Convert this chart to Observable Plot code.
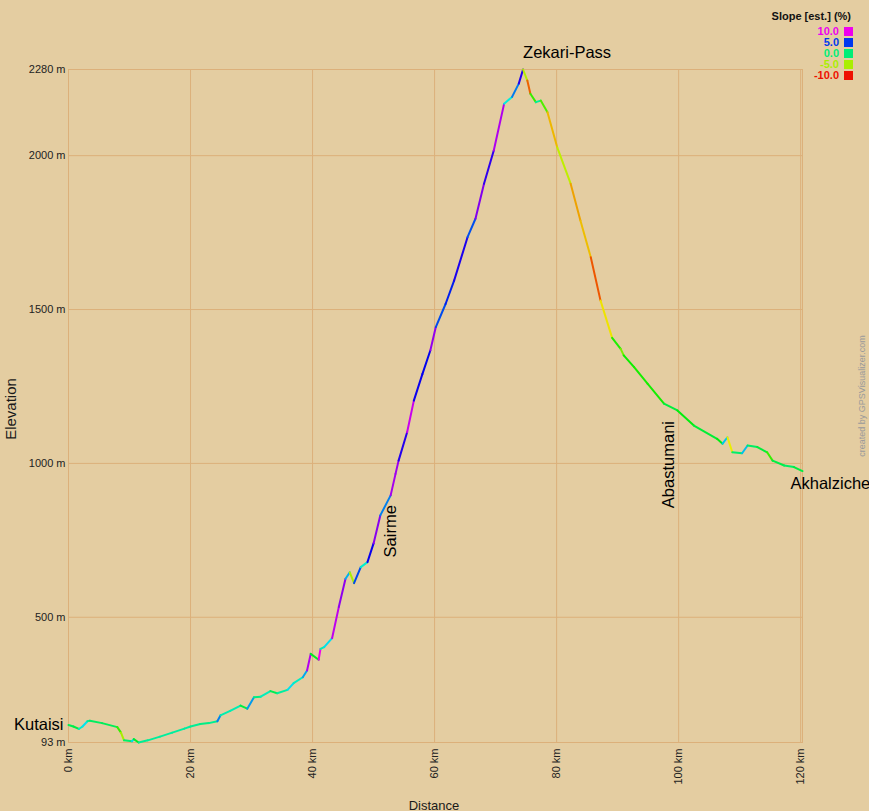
<!DOCTYPE html>
<html><head><meta charset="utf-8">
<script src="https://cdn.jsdelivr.net/npm/d3@7"></script>
<script src="https://cdn.jsdelivr.net/npm/@observablehq/plot@0.6"></script>
<style>
html,body{margin:0;padding:0;background:#e4cda1;}
#wrap{position:relative;width:869px;height:811px;font-family:Arial,"Liberation Sans",sans-serif;}
#legend{position:absolute;top:11px;right:16px;text-align:right;font-weight:bold;font-size:11px;line-height:11px;}
#legend .title{color:#111;margin-bottom:4px;margin-right:2px;}
#legend .row{display:flex;justify-content:flex-end;align-items:center;height:11px;}
#legend .sw{display:inline-block;width:9px;height:9px;margin-left:5px;}
.rot{position:absolute;transform:translate(-50%,-50%) rotate(-90deg);white-space:nowrap;}
#credit{left:862px;top:396px;font-size:9px;color:#9a9a9a;}
#ylab{left:10px;top:409px;font-size:15px;color:#1a1a1a;}
#xlab{position:absolute;left:434px;top:805px;transform:translate(-50%,-50%);font-size:13px;color:#1a1a1a;white-space:nowrap;}
</style>
</head><body>
<div id="wrap"><div id="legend"></div><div id="credit" class="rot">created by GPSVisualizer.com</div><div id="ylab" class="rot">Elevation</div><div id="xlab">Distance</div></div>
<script>
// Elevation profile (km, m)
const distanceKm = [0,0.8,1.7,2.3,3.1,3.5,5.5,8.0,8.6,9.1,10.4,10.7,11.5,13,15,17,19,20,21.6,23,24.4,24.9,26.5,28.2,29.3,30.4,31.5,33.1,34.2,35.9,36.9,38.4,39.1,39.7,41.0,41.3,41.9,43.2,44.3,45.4,46.1,46.8,47.9,49.0,50,51.1,52.8,53.6,54.1,55.5,56.6,58,59.3,60.2,61.8,63.2,65.4,66.7,68.1,69.7,71.4,72.7,73.8,74.5,75.2,75.7,76.6,77.4,78.5,80.1,82.3,83.9,85.6,87.2,89.1,90.5,91.0,92.7,94.9,97.6,99.8,102.5,106.3,107.2,108.0,108.8,110.4,111.3,112.9,114.5,115.4,117.3,118.9,120.3];
const elevationM = [150,145,137,145,162,164,156,143,125,100,97,104,93,100,112,125,138,145,153,156,162,181,196,213,203,240,242,260,253,264,286,305,327,381,362,397,403,432,533,625,646,611,663,679,740,831,896,966,1009,1101,1204,1290,1367,1443,1518,1594,1735,1795,1909,2017,2169,2191,2234,2280,2244,2201,2174,2179,2141,2027,1909,1789,1670,1529,1408,1372,1351,1313,1259,1194,1172,1123,1080,1064,1085,1036,1033,1058,1053,1036,1009,993,988,975];

const xTicks = [0,20,40,60,80,100,120];
const xGrid = [20,40,60,80,100,120];
const yTicks = [93,500,1000,1500,2000,2280];
const yGrid = [500,1000,1500,2000];

const slopeStops = [10,5,0,-5,-10];
const slopeColors = ["#ee00ee","#0038ee","#00ee77","#aaee00","#ee1100"];

const waypointNames = ["Kutaisi","Sairme","Zekari-Pass","Abastumani","Akhalziche"];
const waypointKm = [0,52.8,74.5,98.4,120.3];
const waypointElev = [150,896,2280,1186,975];

const pts = d3.zip(distanceKm, elevationM);
const segments = d3.pairs(pts).map(([a,b]) => ({x1:a[0],y1:a[1],x2:b[0],y2:b[1],slope:(b[1]-a[1])/((b[0]-a[0])*1000)*100}));
const wps = waypointNames.map((n,i)=>({name:n,km:waypointKm[i],elev:waypointElev[i]}));
const wp = n => wps.filter(d=>d.name===n);

const grid = "#dcb07a";
const lab = {fontSize:16.5,fill:"#000"};
const chart = Plot.plot({
  width:869, height:811,
  marginLeft:68, marginRight:67, marginTop:69, marginBottom:69,
  style:{background:"transparent",fontFamily:"Arial, 'Liberation Sans', sans-serif",fontSize:"11px",color:"#222"},
  x:{domain:[0,120.3],ticks:xTicks,tickFormat:d=>d+" km",tickRotate:-90,tickSize:0,tickPadding:6,label:null},
  y:{domain:[93,2280],ticks:yTicks,tickFormat:d=>d+" m",tickSize:0,tickPadding:3,label:null},
  color:{type:"linear",domain:slopeStops.slice().reverse(),range:slopeColors.slice().reverse(),interpolate:"hsl",clamp:true},
  marks:[
    Plot.ruleY(yGrid,{stroke:grid,strokeWidth:1}),
    Plot.ruleX(xGrid,{stroke:grid,strokeWidth:1}),
    Plot.frame({stroke:grid,strokeWidth:1}),
    Plot.link(segments,{x1:"x1",y1:"y1",x2:"x2",y2:"y2",stroke:"slope",strokeWidth:2,strokeLinecap:"round"}),
    Plot.text(wp("Kutaisi"),{x:"km",y:"elev",text:"name",textAnchor:"end",dx:-5,...lab}),
    Plot.text(wp("Zekari-Pass"),{x:"km",y:"elev",text:"name",textAnchor:"start",dy:-17,...lab}),
    Plot.text(wp("Akhalziche"),{x:"km",y:"elev",text:"name",textAnchor:"start",dx:-12,dy:13,...lab}),
    Plot.text(wp("Sairme"),{x:"km",y:"elev",text:"name",textAnchor:"start",rotate:-90,dy:62,...lab}),
    Plot.text(wp("Abastumani"),{x:"km",y:"elev",text:"name",textAnchor:"start",rotate:-90,dy:102,...lab})
  ]
});
document.getElementById("wrap").prepend(chart);

const lg = document.getElementById("legend");
lg.innerHTML = '<div class="title">Slope [est.] (%)</div>' + slopeStops.map((s,i)=>
  `<div class="row" style="color:${slopeColors[i]}"><span>${s.toFixed(1)}</span><span class="sw" style="background:${slopeColors[i]}"></span></div>`).join("");
</script>
</body></html>
